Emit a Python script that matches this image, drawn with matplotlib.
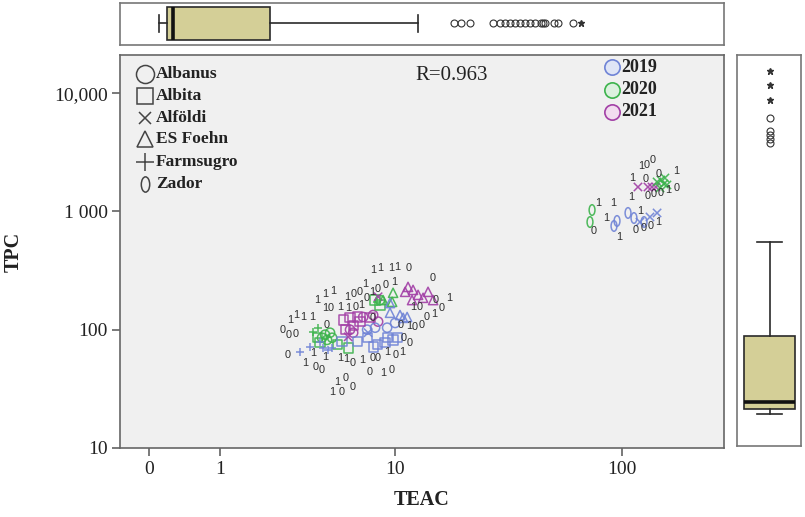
import numpy as np
import matplotlib
matplotlib.use("Agg")
import matplotlib.pyplot as plt
from matplotlib.path import Path
import matplotlib.transforms as mtransforms

# ---- scatter data: TEAC (x) and TPC (y) per cultivar, with harvest year ----
ALBANUS_TEAC = [4.41, 4.57, 4.85, 4.68, 4.97, 8.52, 7.08, 7.91, 8.35, 6.33, 6.11, 7.40, 8.08, 10.04, 9.21]
ALBANUS_TPC = [85.5, 90.7, 94.3, 82, 85.5, 178, 128, 133, 117, 94.3, 100, 100, 104, 114, 104]
ALBANUS_YEAR = [2020, 2020, 2020, 2020, 2020, 2020, 2021, 2021, 2021, 2021, 2021, 2019, 2019, 2019, 2019]

ALBITA_TEAC = [4.16, 4.30, 5.27, 5.98, 8.08, 8.52, 5.65, 6.11, 6.62, 6.84, 5.78, 6.33, 7.64,
               7.91, 8.26, 9.01, 9.82, 10.26, 6.62, 5.58, 7.40, 9.21]
ALBITA_TPC = [85.5, 77.5, 74.5, 70, 178, 162, 121, 126, 128, 117, 100, 108, 126,
              71.5, 74.5, 77.5, 82, 85.5, 79, 79, 85.5, 85.5]
ALBITA_YEAR = [2020, 2020, 2020, 2020, 2020, 2020, 2021, 2021, 2021, 2021, 2021, 2021, 2021,
               2019, 2019, 2019, 2019, 2019, 2019, 2019, 2019, 2019]

ALFOLDI_TEAC = [8.35, 5.98, 117, 129.1, 134.3, 139.6, 141.2, 146.6, 151, 155.6, 145.3, 152.5,
                7.48, 131.7, 141.2, 119.3]
ALFOLDI_TPC = [190, 87, 1608, 1608, 1608, 1608, 1775, 1841, 1707, 1673, 1577, 1916,
               94.3, 897, 970, 813]
ALFOLDI_YEAR = [2021, 2021, 2021, 2021, 2021, 2021, 2020, 2020, 2020, 2020, 2020, 2020,
                2019, 2019, 2019, 2019]

ESFOEHN_TEAC = [11.17, 11.52, 12.15, 12.81, 13.50, 14.22, 14.99, 12.02, 9.82, 8.81, 9.72,
                9.50, 10.58, 10.94, 11.41, 9.50]
ESFOEHN_TPC = [209, 230, 217, 197, 186, 209, 178, 178, 205, 178, 172, 139, 133, 126, 128, 168]
ESFOEHN_YEAR = [2021, 2021, 2021, 2021, 2021, 2021, 2021, 2021, 2020, 2020, 2020,
                2019, 2019, 2019, 2019, 2019]

FARMSUGRO_TEAC = [4.20, 3.96, 8.26, 3.36, 3.81, 4.46, 4.74, 4.97, 4.30]
FARMSUGRO_TPC = [104, 96, 172, 65, 71.5, 70, 67.3, 70, 79]
FARMSUGRO_YEAR = [2020, 2020, 2020, 2019, 2019, 2019, 2019, 2019, 2019]

ZADOR_TEAC = [95.2, 92.4, 112.5, 124.2, 106.1, 74.4, 72.9]
ZADOR_TPC = [830, 753, 879, 813, 970, 1027, 813]
ZADOR_YEAR = [2019, 2019, 2019, 2019, 2019, 2020, 2020]

# ---- case labels printed next to points ----
LABEL_TEAC = [7.91, 8.52, 9.61, 10.26, 11.64, 14.99, 7.82, 8.35, 9.11, 9.93,
              4.16, 4.57, 5.03, 5.91, 6.33, 6.77, 7.24,
              4.57, 4.91, 5.45, 5.98, 6.48, 6.92, 7.40,
              2.96, 3.20, 3.50, 3.91, 2.70, 2.92, 3.20, 4.68,
              12.15, 13.07, 15.31, 16.45, 17.67, 14.08, 15.15,
              10.70, 11.64, 12.41, 13.36, 10.94, 11.76, 7.82,
              2.85, 3.96, 4.57, 5.45, 5.85, 6.26, 7.00, 7.82, 8.35, 9.21, 10.04, 10.82,
              3.59, 4.06, 4.41, 5.27, 5.78, 6.26, 7.64, 8.81, 9.72, 4.97, 5.58,
              120.5, 127.9, 135.6, 143.9, 170.1, 110.3, 126.6,
              109.3, 129.1, 137.0, 146.6, 157.2, 171.8,
              78.9, 91.5, 85.4, 119.3,
              75.8, 97.1, 114.8, 124.2, 133.0, 142.5]
LABEL_TPC = [320, 332, 332, 338, 332, 274, 209, 221, 240, 253,
             178, 201, 213, 190, 201, 209, 244,
             153, 153, 156, 153, 156, 162, 186,
             121, 133, 128, 128, 100, 91, 92.5, 110,
             156, 156, 178, 153, 186, 128, 136,
             110, 108, 106, 110, 85.5, 77.5, 126,
             61, 63.5, 59, 58, 56.5, 52, 55.4, 58, 58, 65, 61, 65,
             52, 48.3, 45.6, 36, 39, 32.5, 44, 43, 45.6, 29.7, 29.7,
             2420, 2466, 2716, 2070, 2195, 1916, 1879,
             1323, 1349, 1402, 1430, 1516, 1577,
             1178, 1178, 879, 1008,
             683, 608, 696, 724, 753, 813]
LABEL_TEXT = ["1", "1", "1", "1", "0", "0", "1", "0", "0", "1",
              "1", "1", "1", "1", "0", "0", "1",
              "1", "0", "1", "1", "0", "1", "0",
              "1", "1", "1", "1", "0", "0", "0", "0",
              "1", "0", "0", "0", "1", "0", "1",
              "0", "1", "0", "0", "0", "0", "0",
              "0", "1", "1", "1", "1", "0", "1", "0", "0", "1", "0", "1",
              "1", "0", "0", "1", "0", "0", "0", "1", "0", "1", "0",
              "1", "0", "0", "0", "1", "1", "0",
              "1", "0", "0", "0", "1", "0",
              "1", "1", "1", "1",
              "0", "1", "0", "0", "0", "1"]

# ---- marginal box plot summaries ----
TEAC_BOX = dict(whislo=2.8, q1=6.1, med=8.5, q3=48.7, whishi=109.8)
TEAC_OUTLIERS = [124.9, 127.7, 131.5, 141.0, 143.9, 146.0, 148.0, 150.1, 152.2, 154.2,
                 156.3, 158.4, 160.8, 161.7, 162.5, 166.2, 167.9, 174.1]
TEAC_EXTREMES = [177.4]
TPC_BOX = dict(whislo=30, q1=72.6, med=132, q3=694, whishi=1495)
TPC_OUTLIERS = [2338, 2372, 2406, 2441, 2551]
TPC_EXTREMES = [2705, 2832, 2952]

CULTIVARS = ["Albanus", "Albita", "Alföldi", "ES Foehn", "Farmsugro", "Zador"]
YEARS = [2019, 2020, 2021]
R_TEXT = "R=0.963"

YEAR_COLORS = {2019: "#6f83d6", 2020: "#3cb34c", 2021: "#a23fa6"}
YEAR_FILLS = {2019: "#dfe5f6", 2020: "#dcf1df", 2021: "#f2dcf0"}

zero_marker = Path.unit_circle().transformed(mtransforms.Affine2D().scale(0.55, 1.0))
MARKERS = {"Albanus": "o", "Albita": "s", "Alföldi": "x", "ES Foehn": "^",
           "Farmsugro": "+", "Zador": zero_marker}
SERIES = {
    "Albanus": (ALBANUS_TEAC, ALBANUS_TPC, ALBANUS_YEAR),
    "Albita": (ALBITA_TEAC, ALBITA_TPC, ALBITA_YEAR),
    "Alföldi": (ALFOLDI_TEAC, ALFOLDI_TPC, ALFOLDI_YEAR),
    "ES Foehn": (ESFOEHN_TEAC, ESFOEHN_TPC, ESFOEHN_YEAR),
    "Farmsugro": (FARMSUGRO_TEAC, FARMSUGRO_TPC, FARMSUGRO_YEAR),
    "Zador": (ZADOR_TEAC, ZADOR_TPC, ZADOR_YEAR),
}

SERIF = "Liberation Serif"
W, H = 805, 517
fig = plt.figure(figsize=(W / 100, H / 100), dpi=100)


def px_rect(x0, y0, x1, y1):
    return [x0 / W, 1 - y1 / H, (x1 - x0) / W, (y1 - y0) / H]


ax = fig.add_axes(px_rect(120, 55, 724, 448))
ax_top = fig.add_axes(px_rect(120, 3, 724, 45))
ax_right = fig.add_axes(px_rect(737, 55, 801, 446))


# safe-log scale for TEAC so that 0 can be shown
def safe_log(v):
    v = np.asarray(v, dtype=float)
    return np.sign(v) * np.log10(1 + np.abs(v))


def safe_log_inv(v):
    v = np.asarray(v, dtype=float)
    return np.sign(v) * (10 ** np.abs(v) - 1)


ax.set_xscale("function", functions=(safe_log, safe_log_inv))
ax.set_yscale("log")
ax.set_xlim(-0.327, 272.2)
ax.set_ylim(10, 20990)
ax.set_facecolor("#f0f0f0")

for name, (xs, ys, yrs) in SERIES.items():
    cols = [YEAR_COLORS[y] for y in yrs]
    m = MARKERS[name]
    if m in ("x", "+"):
        ax.scatter(xs, ys, marker=m, c=cols, s=36, linewidths=1.1, zorder=3, alpha=0.9)
    else:
        ax.scatter(xs, ys, marker=m, facecolors="none", edgecolors=cols,
                   s=44 if m != zero_marker else 58, linewidths=1.1, zorder=3, alpha=0.9)

for tx, ty, t in zip(LABEL_TEAC, LABEL_TPC, LABEL_TEXT):
    ax.text(tx, ty, t, fontsize=7.8, color="#2e2e2e", ha="center", va="center",
            family="Liberation Sans", zorder=4)

# ticks and labels
ax.set_xticks([0, 1, 10, 100])
ax.set_xticklabels(["0", "1", "10", "100"])
ax.set_yticks([10, 100, 1000, 10000])
ax.set_yticklabels(["10", "100", "1 000", "10,000"])
ax.minorticks_off()
ax.tick_params(axis="both", which="major", direction="out", length=6, width=1.1,
               color="#555555", labelsize=14, labelcolor="#222222", pad=3)
for lab in ax.get_xticklabels() + ax.get_yticklabels():
    lab.set_family(SERIF)
for sp in ax.spines.values():
    sp.set_color("#666666")
    sp.set_linewidth(1.2)
ax.set_xlabel("TEAC", family=SERIF, fontweight="bold", fontsize=14.5, color="#222222", labelpad=9)
ax.set_ylabel("TPC", family=SERIF, fontweight="bold", fontsize=14.5, color="#222222", labelpad=22)


def ax_frac(px, py):
    return (px - 120) / 604, (448 - py) / 393


# cultivar (shape) key
legend_rows = [74, 96, 118, 139, 162, 184]
legend_sizes = {"Albanus": 13, "Albita": 12, "Alföldi": 9, "ES Foehn": 11,
                "Farmsugro": 13, "Zador": 11}
for name, py in zip(CULTIVARS, legend_rows):
    mx, my = ax_frac(145, py)
    ax.plot([mx], [my], marker=MARKERS[name], transform=ax.transAxes, ms=legend_sizes[name],
            mfc="none", mec="#444444", mew=1.1, clip_on=False, zorder=5)
    tx, ty = ax_frac(156, py)
    ax.text(tx, ty, name, transform=ax.transAxes, family=SERIF, fontweight="bold",
            fontsize=12.5, color="#222222", ha="left", va="center")

# year (colour) key
for yr, py in zip(YEARS, [67, 90, 112]):
    mx, my = ax_frac(612, py)
    ax.plot([mx], [my], marker="o", transform=ax.transAxes, ms=11,
            mfc=YEAR_FILLS[yr], mec=YEAR_COLORS[yr], mew=1.2, zorder=5)
    tx, ty = ax_frac(621, py)
    ax.text(tx, ty, str(yr), transform=ax.transAxes, family=SERIF, fontweight="bold",
            fontsize=13, color="#222222", ha="left", va="center")

rx, ry = ax_frac(415, 75)
ax.text(rx, ry, R_TEXT, transform=ax.transAxes, family=SERIF, fontsize=15,
        color="#222222", ha="left", va="center")

# marginal box plots
box_kw = dict(patch_artist=True, manage_ticks=False, capwidths=0.4,
              boxprops=dict(facecolor="#d4cf97", edgecolor="#2a2a2a", linewidth=1.2),
              medianprops=dict(color="#111111", linewidth=2.6),
              whiskerprops=dict(color="#2a2a2a", linewidth=1.2),
              capprops=dict(color="#2a2a2a", linewidth=1.2),
              flierprops=dict(marker="o", mfc="none", mec="#333333", ms=5, mew=0.8))

ax_top.bxp([dict(TEAC_BOX, fliers=TEAC_OUTLIERS)], positions=[0.512], widths=0.786,
           orientation="horizontal", **box_kw)
ax_top.plot(TEAC_EXTREMES, [0.512] * len(TEAC_EXTREMES), ls="none", marker="*",
            ms=5, color="#333333")
ax_top.set_xlim(-13.34, 236.6)
ax_top.set_ylim(0, 1)

ax_right.bxp([dict(TPC_BOX, fliers=TPC_OUTLIERS)], positions=[0.508], widths=0.797,
             orientation="vertical", **box_kw)
ax_right.plot([0.508] * len(TPC_EXTREMES), TPC_EXTREMES, ls="none", marker="*",
              ms=5, color="#333333")
ax_right.set_ylim(-242.6, 3088)
ax_right.set_xlim(0, 1)

for a in (ax_top, ax_right):
    a.set_xticks([])
    a.set_yticks([])
    a.set_facecolor("white")
    for sp in a.spines.values():
        sp.set_color("#777777")
        sp.set_linewidth(1.2)

fig.savefig("out.png", dpi=100)
